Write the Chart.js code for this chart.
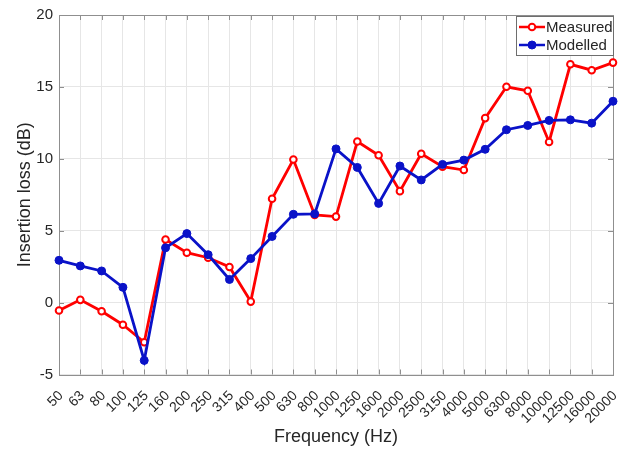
<!DOCTYPE html>
<html>
<head>
<meta charset="utf-8">
<title>Insertion loss</title>
<script src="https://cdn.jsdelivr.net/npm/chart.js@4/dist/chart.umd.min.js"></script>
<style>
  html, body { margin: 0; padding: 0; background: #fff; }
  #wrap { width: 633px; height: 453px; }
</style>
</head>
<body>
<div id="wrap"><canvas id="chart" width="633" height="453"></canvas></div>
<script>
// third-octave band centre frequencies
const freqLabels = ['50', '63', '80', '100', '125', '160', '200', '250', '315', '400', '500', '630', '800',
  '1000', '1250', '1600', '2000', '2500', '3150', '4000', '5000', '6300', '8000', '10000', '12500', '16000', '20000'];

const measured = [-0.55, 0.19, -0.6, -1.54, -2.76, 4.39, 3.47, 3.12, 2.48, 0.07, 7.22, 9.95, 6.1,
  5.98, 11.2, 10.25, 7.75, 10.35, 9.45, 9.22, 12.83, 15.01, 14.73, 11.17, 16.57, 16.16, 16.69];

const modelled = [2.94, 2.55, 2.2, 1.06, -4.02, 3.81, 4.8, 3.33, 1.61, 3.06, 4.6, 6.14, 6.17,
  10.69, 9.4, 6.9, 9.5, 8.53, 9.61, 9.91, 10.66, 12.02, 12.32, 12.67, 12.71, 12.48, 14.0];

const yMin = -5, yMax = 20, yStep = 5;

const FONT = "'Liberation Sans', Arial, Helvetica, sans-serif";
const RED = '#ff0000', BLUE = '#0a12c8';
const AXIS = '#8f8f8f', GRID = '#e6e6e6', TEXT = '#262626';

// box round the plot with short inward ticks on all four sides
const frameTicks = {
  id: 'frameTicks',
  beforeDatasetsDraw(chart) {
    const { ctx, chartArea: a, scales: { x, y } } = chart;
    ctx.save();
    ctx.strokeStyle = AXIS;
    ctx.lineWidth = 1;
    ctx.beginPath();
    x.ticks.forEach((t, i) => {
      const px = Math.round(x.getPixelForTick(i)) + 0.5;
      ctx.moveTo(px, a.bottom); ctx.lineTo(px, a.bottom - 5);
      ctx.moveTo(px, a.top); ctx.lineTo(px, a.top + 5);
    });
    y.ticks.forEach((t, i) => {
      const py = Math.round(y.getPixelForTick(i)) + 0.5;
      ctx.moveTo(a.left, py); ctx.lineTo(a.left + 5, py);
      ctx.moveTo(a.right, py); ctx.lineTo(a.right - 5, py);
    });
    ctx.stroke();
    ctx.strokeRect(Math.round(a.left) + 0.5, Math.round(a.top) + 0.5,
      Math.round(a.right - a.left), Math.round(a.bottom - a.top));
    ctx.restore();
  }
};

// legend box in the top right corner: line sample with marker, then the label
const boxLegend = {
  id: 'boxLegend',
  afterDraw(chart) {
    const { ctx, chartArea: a } = chart;
    const w = 97, h = 39;
    const bx = a.right - w, by = a.top + 1;
    ctx.save();
    ctx.fillStyle = '#fff';
    ctx.fillRect(bx, by, w, h);
    ctx.strokeStyle = '#6e6e6e';
    ctx.lineWidth = 1;
    ctx.strokeRect(Math.round(bx) + 0.5, Math.round(by) + 0.5, w, h);
    ctx.font = '15px ' + FONT;
    ctx.textBaseline = 'middle';
    chart.data.datasets.forEach((ds, i) => {
      const cy = by + 11 + i * 18;
      ctx.strokeStyle = ds.borderColor;
      ctx.lineWidth = 2.5;
      ctx.beginPath();
      ctx.moveTo(bx + 3, cy); ctx.lineTo(bx + 29, cy);
      ctx.stroke();
      ctx.beginPath();
      ctx.arc(bx + 16, cy, ds.pointRadius, 0, Math.PI * 2);
      ctx.fillStyle = ds.pointBackgroundColor;
      ctx.fill();
      ctx.lineWidth = ds.pointBorderWidth;
      ctx.strokeStyle = ds.pointBorderColor;
      ctx.stroke();
      ctx.fillStyle = TEXT;
      ctx.fillText(ds.label, bx + 30, cy + 1);
    });
    ctx.restore();
  }
};

new Chart(document.getElementById('chart'), {
  type: 'line',
  data: {
    labels: freqLabels,
    datasets: [
      {
        label: 'Measured', data: measured, order: 2,
        borderColor: RED, borderWidth: 2.8,
        pointRadius: 3.3, pointBorderWidth: 2, pointBackgroundColor: '#fff', pointBorderColor: RED,
        tension: 0
      },
      {
        label: 'Modelled', data: modelled, order: 1,
        borderColor: BLUE, borderWidth: 2.8,
        pointRadius: 4, pointBorderWidth: 1, pointBackgroundColor: BLUE, pointBorderColor: BLUE,
        tension: 0
      }
    ]
  },
  options: {
    responsive: false,
    animation: false,
    layout: { padding: { top: 13, right: 20, left: 0, bottom: 0 } },
    plugins: { legend: { display: false }, tooltip: { enabled: false } },
    scales: {
      x: {
        offset: false,
        grid: { color: GRID, drawTicks: false },
        border: { display: false },
        ticks: {
          color: TEXT, font: { family: FONT, size: 14 }, autoSkip: false,
          minRotation: 45, maxRotation: 45, padding: 13, labelOffset: 2
        },
        title: { display: true, text: 'Frequency (Hz)', color: TEXT, font: { family: FONT, size: 18 }, padding: { top: 0, bottom: 5 } },
        afterFit: s => {
          s.height = 453 - 374.5;
          s.paddingLeft = 0;
          s.paddingRight = 0;
        }
      },
      y: {
        min: yMin, max: yMax,
        grid: { color: GRID, drawTicks: false },
        border: { display: false },
        ticks: { stepSize: yStep, color: TEXT, font: { family: FONT, size: 15 }, padding: 6 },
        title: { display: true, text: 'Insertion loss (dB)', color: TEXT, font: { family: FONT, size: 18 }, padding: { top: 14, bottom: 0 } },
        afterFit: s => { s.width = 59; }
      }
    }
  },
  plugins: [frameTicks, boxLegend]
});
</script>
</body>
</html>
